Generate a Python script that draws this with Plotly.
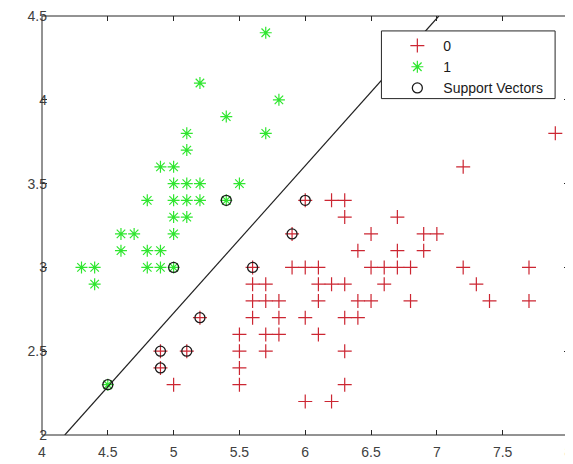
import plotly.graph_objects as go

# ---- data ----
class0_x = [7.9, 7.2,
            6.0, 6.2, 6.3,
            6.3, 6.7,
            5.9, 6.5, 6.9, 7.0,
            6.4, 6.7, 6.9,
            5.6, 5.9, 6.0, 6.1, 6.5, 6.6, 6.7, 6.8, 7.2, 7.7,
            5.6, 5.7, 6.1, 6.2, 6.3, 6.6, 7.3,
            5.6, 5.7, 5.8, 6.1, 6.4, 6.5, 6.8, 7.4, 7.7,
            5.2, 5.6, 5.8, 6.0, 6.3, 6.4,
            5.5, 5.7, 5.8, 6.1,
            4.9, 5.1, 5.5, 5.7, 6.3,
            4.9, 5.5,
            5.0, 5.5, 6.3,
            6.0, 6.2]
class0_y = [3.8, 3.6,
            3.4, 3.4, 3.4,
            3.3, 3.3,
            3.2, 3.2, 3.2, 3.2,
            3.1, 3.1, 3.1,
            3.0, 3.0, 3.0, 3.0, 3.0, 3.0, 3.0, 3.0, 3.0, 3.0,
            2.9, 2.9, 2.9, 2.9, 2.9, 2.9, 2.9,
            2.8, 2.8, 2.8, 2.8, 2.8, 2.8, 2.8, 2.8, 2.8,
            2.7, 2.7, 2.7, 2.7, 2.7, 2.7,
            2.6, 2.6, 2.6, 2.6,
            2.5, 2.5, 2.5, 2.5, 2.5,
            2.4, 2.4,
            2.3, 2.3, 2.3,
            2.2, 2.2]

class1_x = [5.7, 5.2, 5.8, 5.4,
            5.1, 5.7, 5.1,
            4.9, 5.0,
            5.0, 5.1, 5.2, 5.5,
            4.8, 5.0, 5.1, 5.2, 5.4,
            5.0, 5.1,
            4.6, 4.7, 5.0,
            4.6, 4.8, 4.9,
            4.3, 4.4, 4.8, 4.9, 5.0,
            4.4, 4.5]
class1_y = [4.4, 4.1, 4.0, 3.9,
            3.8, 3.8, 3.7,
            3.6, 3.6,
            3.5, 3.5, 3.5, 3.5,
            3.4, 3.4, 3.4, 3.4, 3.4,
            3.3, 3.3,
            3.2, 3.2, 3.2,
            3.1, 3.1, 3.1,
            3.0, 3.0, 3.0, 3.0, 3.0,
            2.9, 2.3]

sv_x = [6.0, 5.9, 5.6, 5.2, 4.9, 5.1, 4.9, 5.4, 5.0, 4.5]
sv_y = [3.4, 3.2, 3.0, 2.7, 2.5, 2.5, 2.4, 3.4, 3.0, 2.3]

boundary_x = [4.173, 7.015]
boundary_y = [2.0, 4.5]

x_ticks = [4, 4.5, 5, 5.5, 6, 6.5, 7, 7.5, 8]
y_ticks = [2, 2.5, 3, 3.5, 4, 4.5]

RED = "#cc2632"
GREEN = "#2fe62f"
AX = "#262626"
FONT = "Liberation Sans, Arial, sans-serif"

# the page body adds an 8px offset; figure size/margins compensate
W, H = 565, 456
ML, MR, MT, MB = 34, 0, 6, 29
PW = W - ML - MR
PH = H - MT - MB


def px_x(p):  # page pixel -> paper x
    return (p - 8 - ML) / PW


def px_y(p):  # page pixel -> paper y
    return 1 - (p - 8 - MT) / PH


fig = go.Figure()
fig.add_trace(go.Scatter(
    x=class0_x, y=class0_y, mode="markers", name="0",
    marker=dict(symbol="cross-thin-open", size=10, color=RED,
                line=dict(color=RED, width=1.2))))
fig.add_trace(go.Scatter(
    x=class1_x, y=class1_y, mode="markers", name="1",
    marker=dict(symbol="asterisk-open", size=10, color=GREEN,
                line=dict(color=GREEN, width=1.2))))
fig.add_trace(go.Scatter(
    x=sv_x, y=sv_y, mode="markers", name="Support Vectors",
    marker=dict(symbol="circle-open", size=10, color="#1a1a1a",
                line=dict(color="#1a1a1a", width=1.3))))
fig.add_trace(go.Scatter(
    x=boundary_x, y=boundary_y, mode="lines", showlegend=False,
    line=dict(color="#222222", width=1.2), hoverinfo="skip"))

axis_common = dict(
    showline=False, mirror="ticks", ticks="inside", ticklen=5,
    tickcolor=AX, tickwidth=1, showgrid=False, zeroline=False,
    ticklabeloverflow="allow",
    tickfont=dict(family=FONT, size=14, color="#404040"),
)

fig.update_layout(
    width=W, height=H,
    margin=dict(l=ML, r=MR, t=MT, b=MB),
    plot_bgcolor="white", paper_bgcolor="white",
    xaxis=dict(range=[4, 8.004], tickvals=x_ticks, ticklabelstandoff=7,
               ticktext=[f"{v:g}" for v in x_ticks], **axis_common),
    yaxis=dict(range=[2, 4.5], tickvals=y_ticks, ticklabelstandoff=-6,
               ticktext=[f"{v:g}" for v in y_ticks], **axis_common),
    showlegend=True,
    legend=dict(x=px_x(394), y=px_y(28),
                xanchor="left", yanchor="top",
                bgcolor="rgba(0,0,0,0)", borderwidth=0,
                itemwidth=42,
                font=dict(family=FONT, size=14, color="#1a1a1a"),
                tracegroupgap=0),
    shapes=[
        dict(type="line", xref="paper", yref="paper", x0=0, x1=0, y0=0, y1=1,
             line=dict(color=AX, width=1)),
        dict(type="line", xref="paper", yref="paper", x0=0, x1=1.01, y0=0, y1=0,
             line=dict(color=AX, width=1)),
        dict(type="line", xref="paper", yref="paper", x0=0, x1=1.01, y0=1, y1=1,
             line=dict(color=AX, width=1)),
        # legend box (opaque, covers the boundary line like the reference)
        dict(type="rect", xref="paper", yref="paper",
             x0=px_x(384), x1=px_x(559), y0=px_y(97), y1=px_y(29),
             line=dict(color=AX, width=1), fillcolor="white", layer="above"),
    ],
)

fig.write_html("out.html")
